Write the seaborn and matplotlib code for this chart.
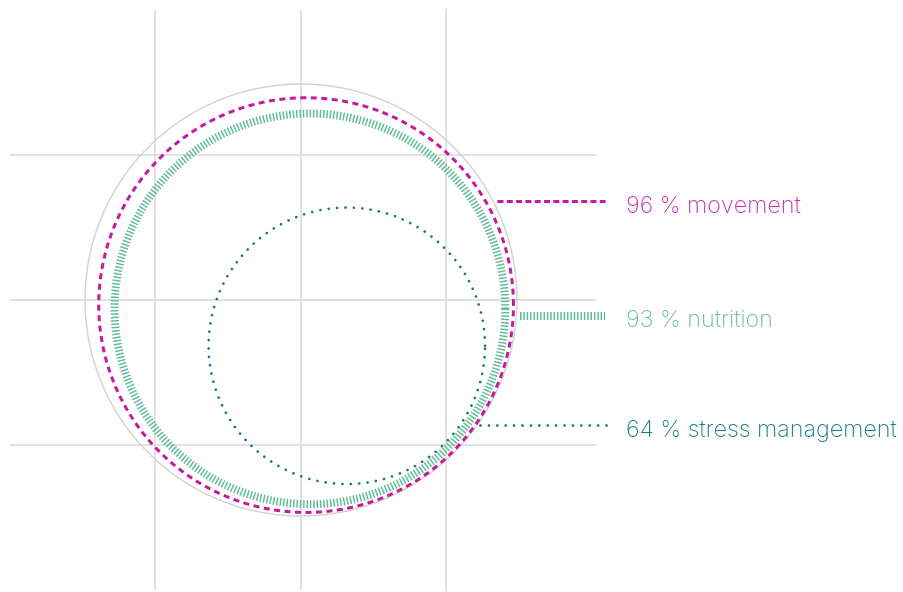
import numpy as np
import pandas as pd
import matplotlib.pyplot as plt
import seaborn as sns

# === Données ===
labels = ["movement", "nutrition", "stress management"]
values = [96, 93, 64]

# === Style ===
colors = ["#c51a9f", "#5dbb94", "#117b7b"]
text_colors = ["#c82ca6", "#63bf98", "#137e7c"]
px = 1 / 145.5                      # one pixel in data units
R = 216 * px                        # outer reference circle (100 %)
K = 180 * px                        # shift of the circles towards bottom right
insets = [0, 5.5 * px, 0]
label_y = [0.68, -0.108, -0.861]    # leader lines height
lead_end = [2.09, 2.09, 2.105]
pt = 0.72                           # one pixel in points
line_kw = [
    dict(linewidth=3 * pt, linestyle=(0, (2, 1.5))),
    dict(linewidth=8 * pt, linestyle=(0, (0.18, 0.24))),
    dict(linewidth=2.8 * pt, linestyle=(0, (0.001, 3.0)), dash_capstyle="round"),
]
leader_kw = [
    dict(linewidth=3 * pt, linestyle=(0, (2, 1.1))),
    dict(linewidth=8 * pt, linestyle=(0, (0.18, 0.24))),
    dict(linewidth=2.8 * pt, linestyle=(0, (0.001, 3.0)), dash_capstyle="round"),
]

sns.set_theme(style="white")
plt.rcParams['font.family'] = ['Inter', 'DejaVu Sans']

fig = plt.figure(figsize=(9.04, 5.92), dpi=100)
ax = fig.add_axes([10 / 904, 1 / 592, 582 / 904, 582 / 592])
ax.set_xlim(-2, 2)
ax.set_ylim(-2, 2)
ax.set_aspect("equal")

# === Grille ===
for v in [-1, 0, 1]:
    ax.axvline(v, color="#d9d9d9", lw=1.1, zorder=0)
    ax.plot([-2, 2.03], [v, v], color="#d9d9d9", lw=1.1, zorder=0, clip_on=False)

theta = np.linspace(0, 2 * np.pi, 1441)

# cercle de référence
ref = pd.DataFrame({"x": R * np.cos(theta), "y": R * np.sin(theta)})
sns.lineplot(data=ref, x="x", y="y", sort=False, estimator=None,
             color="#d2d2d2", linewidth=1.0, ax=ax)

# === Cercles ===
for i, (name, val) in enumerate(zip(labels, values)):
    p = val / 100
    r = p * R - insets[i]
    d = (1 - p) * K
    cx, cy = d / np.sqrt(2), -d / np.sqrt(2)
    circ = pd.DataFrame({"x": cx + r * np.cos(theta), "y": cy + r * np.sin(theta)})
    sns.lineplot(data=circ, x="x", y="y", sort=False, estimator=None,
                 color=colors[i], ax=ax, **line_kw[i])

    # ligne de rappel + texte
    y = label_y[i]
    x0 = np.sqrt(R ** 2 - y ** 2) + 3.5 * px
    lead = pd.DataFrame({"x": [x0, lead_end[i]], "y": [y, y]})
    sns.lineplot(data=lead, x="x", y="y", sort=False, estimator=None,
                 color=colors[i], ax=ax, clip_on=False, **leader_kw[i])
    ax.text(2.234, y - 11.5 * px, f"{val} % {name}", color=text_colors[i],
            fontsize=16.8, fontweight="light", va="baseline", ha="left", clip_on=False)

ax.set_xlabel("")
ax.set_ylabel("")
ax.set_xticks([])
ax.set_yticks([])
sns.despine(ax=ax, left=True, bottom=True)

fig.savefig("out.png", dpi=100)
